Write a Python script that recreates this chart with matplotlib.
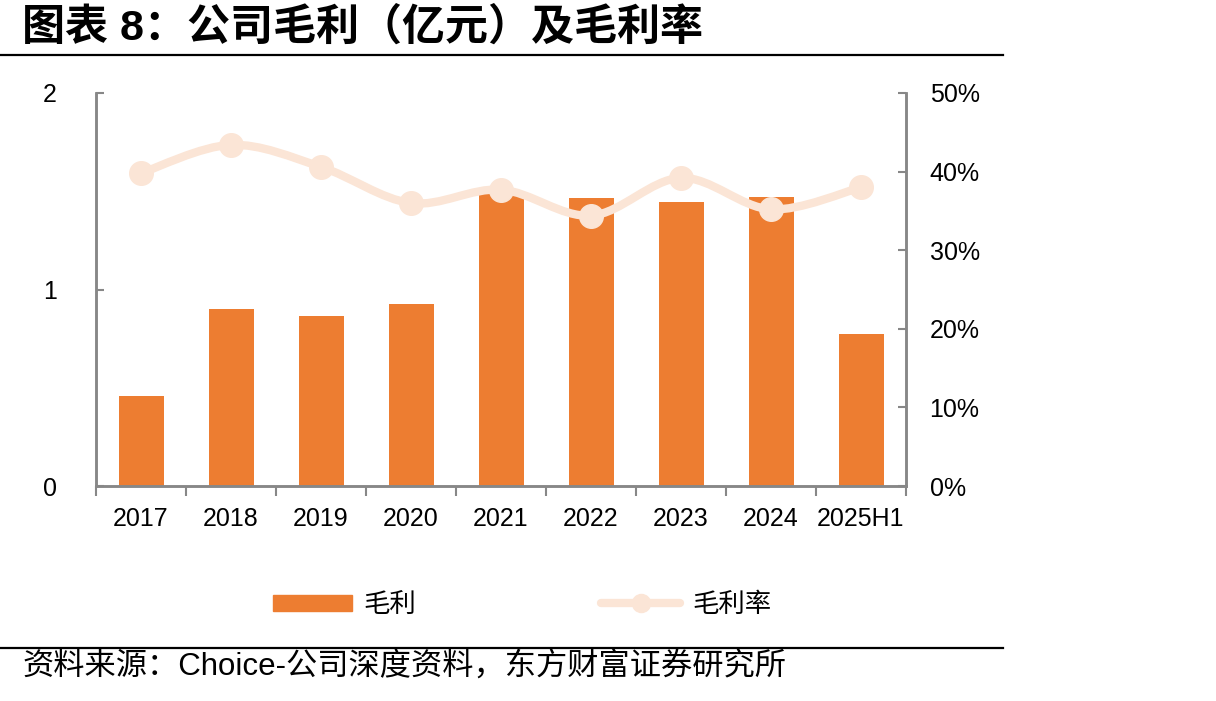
import matplotlib
matplotlib.use("Agg")
import matplotlib.pyplot as plt
from matplotlib.lines import Line2D
from matplotlib.patches import Patch, PathPatch
from matplotlib.path import Path
from matplotlib.ticker import FuncFormatter, FixedLocator, NullFormatter

plt.rcParams['font.family'] = ['Liberation Sans', 'Noto Sans CJK SC', 'DejaVu Sans']

# data
years = ['2017', '2018', '2019', '2020', '2021', '2022', '2023', '2024', '2025H1']
gross_profit = [0.46, 0.90, 0.865, 0.925, 1.50, 1.465, 1.445, 1.47, 0.775]   # 亿元
gross_margin = [0.398, 0.434, 0.406, 0.360, 0.377, 0.344, 0.392, 0.352, 0.380]

bar_color = '#ED7D31'
line_color = '#FBE5D6'
axis_gray = '#878787'

fig = plt.figure(figsize=(12.16, 7.01), dpi=100)
ax = fig.add_axes([96 / 1216, 1 - 486 / 701, 810 / 1216, 393 / 701])
ax2 = ax.twinx()

x = list(range(len(years)))
ax.bar(x, gross_profit, width=0.5, color=bar_color, zorder=2)
ax.set_xlim(-0.5, len(years) - 0.5)
ax.set_ylim(0, 2)
ax.set_yticks([0, 1, 2])
ax.set_yticklabels(['0', '1', '2'])

# x ticks at category boundaries, labels at centres
ax.xaxis.set_major_locator(FixedLocator([i - 0.5 for i in range(len(years) + 1)]))
ax.xaxis.set_major_formatter(NullFormatter())
ax.xaxis.set_minor_locator(FixedLocator(x))
ax.set_xticklabels(years, minor=True)
ax.tick_params(axis='x', which='major', direction='out', length=7, width=1.5, color=axis_gray)
ax.tick_params(axis='x', which='minor', length=0, pad=15, labelsize=18)
ax.tick_params(axis='y', direction='in', length=6, width=1.5, color=axis_gray, pad=28, labelsize=18)

# smoothed margin line on the right axis
pts = list(zip(x, gross_margin))
verts = [pts[0]]
codes = [Path.MOVETO]
n = len(pts)
for i in range(n - 1):
    p0 = pts[i - 1] if i > 0 else pts[i]
    p1 = pts[i]
    p2 = pts[i + 1]
    p3 = pts[i + 2] if i + 2 < n else pts[i + 1]
    c1 = (p1[0] + (p2[0] - p0[0]) / 6, p1[1] + (p2[1] - p0[1]) / 6)
    c2 = (p2[0] - (p3[0] - p1[0]) / 6, p2[1] - (p3[1] - p1[1]) / 6)
    verts += [c1, c2, p2]
    codes += [Path.CURVE4] * 3
ax2.add_patch(PathPatch(Path(verts, codes), fill=False, edgecolor=line_color,
                        lw=6, capstyle='round', zorder=3))
ax2.plot(x, gross_margin, linestyle='none', marker='o', markersize=17,
         color=line_color, zorder=4)
ax2.set_ylim(0, 0.5)
ax2.set_yticks([0, 0.1, 0.2, 0.3, 0.4, 0.5])
ax2.yaxis.set_major_formatter(FuncFormatter(lambda v, p: f'{v * 100:.0f}%'))
ax2.tick_params(axis='y', direction='in', length=6, width=1.5, color=axis_gray, pad=17, labelsize=18)

for a in (ax, ax2):
    a.spines['top'].set_visible(False)
    for s in ('left', 'right', 'bottom'):
        a.spines[s].set_color(axis_gray)
        a.spines[s].set_linewidth(1.8)

# legend
handles = [Patch(color=bar_color),
           Line2D([0], [0], color=line_color, lw=6, marker='o', markersize=13,
                  solid_capstyle='round')]
fig.legend(handles, ['毛利', '毛利率'], loc='center', bbox_to_anchor=(522 / 1216, 1 - 605 / 701),
           ncol=2, frameon=False, fontsize=19, handlelength=3.0, handleheight=0.6,
           handletextpad=0.45, columnspacing=7.0)

# title, rules, source
fig.text(22 / 1216, 1 - 28 / 701, '图表 8：公司毛利（亿元）及毛利率', fontsize=31,
         fontweight='bold', va='center', ha='left')
fig.add_artist(Line2D([0, 1003 / 1216], [1 - 55 / 701] * 2, color='black', lw=1.6))
fig.add_artist(Line2D([0, 1003 / 1216], [1 - 648 / 701] * 2, color='black', lw=1.6))
fig.text(22 / 1216, 1 - 668 / 701, '资料来源：Choice-公司深度资料，东方财富证券研究所',
         fontsize=22.5, va='center', ha='left')

fig.savefig('out.png', dpi=100)
